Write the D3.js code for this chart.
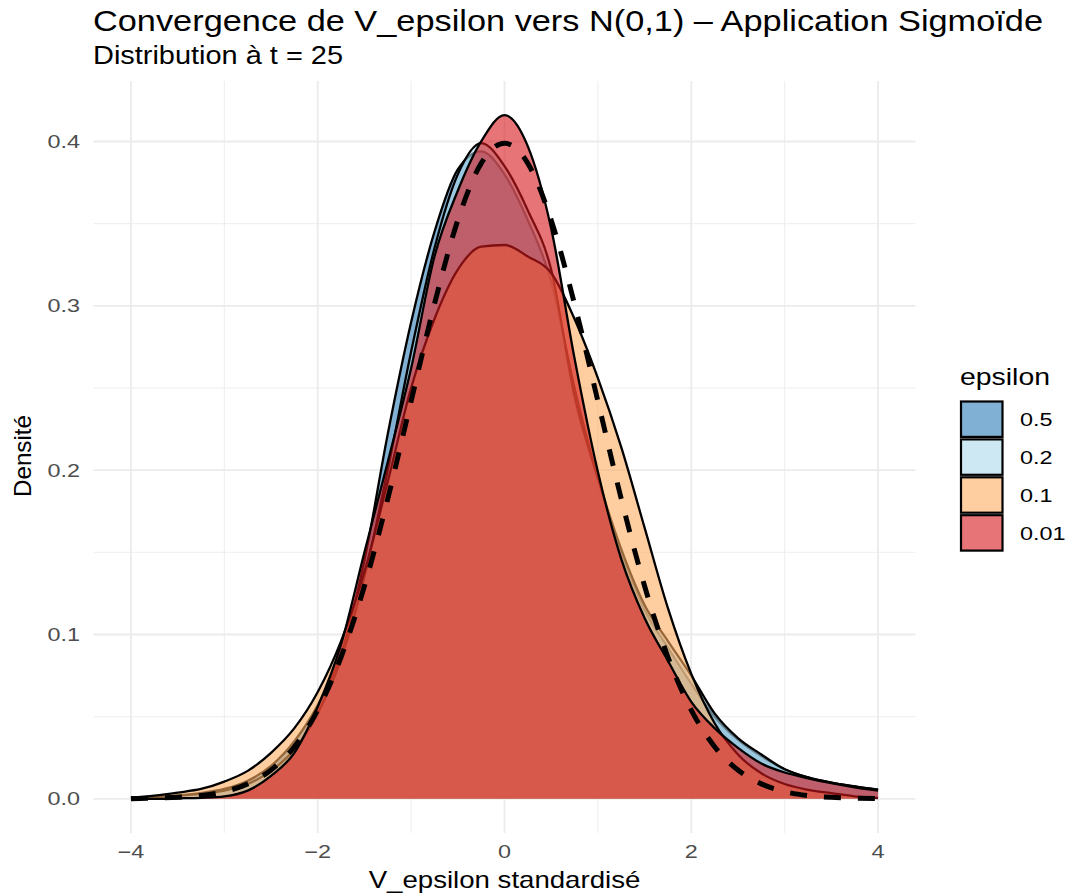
<!DOCTYPE html>
<html>
<head>
<meta charset="utf-8">
<script src="https://cdn.jsdelivr.net/npm/d3@7"></script>
<style>
  body { margin: 0; background: #ffffff; }
  text { font-family: "Liberation Sans", Arial, sans-serif; }
</style>
</head>
<body>
<svg id="chart" width="1066" height="895"></svg>
<script>
// Evaluation grid of the kernel density estimates
const xGrid = [-4, -3.75, -3.5, -3.25, -3, -2.75, -2.5, -2.25, -2, -1.75, -1.5, -1.25, -1,
               -0.75, -0.5, -0.25, 0, 0.25, 0.5, 0.75, 1, 1.25, 1.5, 1.75, 2, 2.25, 2.5,
               2.75, 3, 3.25, 3.5, 3.75, 4];

// Estimated densities of the standardised V_epsilon, one array per epsilon
const epsilonLevels = ["0.5", "0.2", "0.1", "0.01"];
const dens05  = [0.0005, 0.001, 0.002, 0.0035, 0.006, 0.011, 0.020, 0.035, 0.057, 0.088, 0.145,
                 0.222, 0.290, 0.345, 0.383, 0.394, 0.380, 0.352, 0.315, 0.250, 0.195, 0.150,
                 0.115, 0.092, 0.070, 0.050, 0.036, 0.026, 0.018, 0.013, 0.0098, 0.0075, 0.0055];
const dens02  = [0.0005, 0.001, 0.002, 0.003, 0.005, 0.009, 0.017, 0.030, 0.052, 0.085, 0.135,
                 0.200, 0.272, 0.335, 0.380, 0.399, 0.385, 0.358, 0.322, 0.245, 0.195, 0.152,
                 0.118, 0.096, 0.075, 0.052, 0.037, 0.027, 0.018, 0.013, 0.0098, 0.0075, 0.0055];
const dens01  = [0.0008, 0.002, 0.0038, 0.006, 0.0105, 0.017, 0.028, 0.043, 0.065, 0.096, 0.138,
                 0.193, 0.250, 0.292, 0.322, 0.336, 0.337, 0.330, 0.320, 0.292, 0.256, 0.214,
                 0.165, 0.116, 0.076, 0.046, 0.027, 0.0155, 0.009, 0.0055, 0.0035, 0.0015, 0.0005];
const dens001 = [0.000, 0.000, 0.0003, 0.0006, 0.0015, 0.005, 0.014, 0.028, 0.056, 0.094, 0.150,
                 0.205, 0.262, 0.330, 0.370, 0.400, 0.416, 0.397, 0.347, 0.268, 0.199, 0.146,
                 0.110, 0.084, 0.059, 0.043, 0.031, 0.0215, 0.016, 0.0125, 0.0095, 0.007, 0.005];

// Reference N(0,1) density on the same grid
const normalRef = [0.0001, 0.0004, 0.0009, 0.0020, 0.0044, 0.0091, 0.0175, 0.0317, 0.0540,
                   0.0863, 0.1295, 0.1826, 0.2420, 0.3011, 0.3521, 0.3867, 0.3989, 0.3867,
                   0.3521, 0.3011, 0.2420, 0.1826, 0.1295, 0.0863, 0.0540, 0.0317, 0.0175,
                   0.0091, 0.0044, 0.0020, 0.0009, 0.0004, 0.0001];

const xTicks = [-4, -2, 0, 2, 4];
const xMinor = [-3, -1, 1, 3];
const yTicks = [0, 0.1, 0.2, 0.3, 0.4];
const yMinor = [0.05, 0.15, 0.25, 0.35];

const fillColors = ["#2C7BB6", "#ABD9E9", "#FDAE61", "#D7191C"];
const fillAlpha = 0.6;

const svg = d3.select("#chart");

const x = d3.scaleLinear().domain([-4.4, 4.4]).range([93.6, 915.4]);
const y = d3.scaleLinear().domain([-0.0208, 0.4368]).range([833, 81]);

// Stretch a text element horizontally to a given factor of its natural width
function widen(sel, k) {
  sel.each(function () {
    const w = this.getComputedTextLength();
    d3.select(this).attr("textLength", w * k).attr("lengthAdjust", "spacingAndGlyphs");
  });
}
function fitWidth(sel, w) {
  sel.attr("textLength", w).attr("lengthAdjust", "spacingAndGlyphs");
}

// Panel grid
const grid = svg.append("g");
grid.selectAll(".vminor").data(xMinor).join("line")
  .attr("x1", d => x(d)).attr("x2", d => x(d)).attr("y1", 81).attr("y2", 833)
  .attr("stroke", "#ebebeb").attr("stroke-width", 0.9);
grid.selectAll(".hminor").data(yMinor).join("line")
  .attr("x1", 93.6).attr("x2", 915.4).attr("y1", d => y(d)).attr("y2", d => y(d))
  .attr("stroke", "#ebebeb").attr("stroke-width", 0.9);
grid.selectAll(".vmajor").data(xTicks).join("line")
  .attr("x1", d => x(d)).attr("x2", d => x(d)).attr("y1", 81).attr("y2", 833)
  .attr("stroke", "#ebebeb").attr("stroke-width", 1.8);
grid.selectAll(".hmajor").data(yTicks).join("line")
  .attr("x1", 93.6).attr("x2", 915.4).attr("y1", d => y(d)).attr("y2", d => y(d))
  .attr("stroke", "#ebebeb").attr("stroke-width", 1.8);

// Density layers, drawn in legend order (0.5 at the bottom, 0.01 on top)
const seriesValues = [dens05, dens02, dens01, dens001];
const series = epsilonLevels.map((lvl, i) => ({
  level: lvl,
  color: fillColors[i],
  points: xGrid.map((xv, j) => ({ x: xv, y: seriesValues[i][j] }))
}));

const area = d3.area().x(d => x(d.x)).y0(y(0)).y1(d => y(d.y)).curve(d3.curveMonotoneX);
const line = d3.line().x(d => x(d.x)).y(d => y(d.y)).curve(d3.curveMonotoneX);

const layers = svg.append("g");
series.forEach(s => {
  layers.append("path").datum(s.points)
    .attr("d", area).attr("fill", s.color).attr("fill-opacity", fillAlpha);
  layers.append("path").datum(s.points)
    .attr("d", line).attr("fill", "none").attr("stroke", "#000")
    .attr("stroke-width", 2.3).attr("stroke-linejoin", "round");
});

// N(0,1) reference curve
svg.append("path")
  .datum(xGrid.map((xv, j) => ({ x: xv, y: normalRef[j] })))
  .attr("d", line)
  .attr("fill", "none").attr("stroke", "#000")
  .attr("stroke-width", 5).attr("stroke-dasharray", "17,17");

// Axes (labels only, as in theme_minimal)
const fmtY = d3.format(".1f");
const yLab = svg.append("g").selectAll("text").data(yTicks).join("text")
  .attr("x", 80).attr("y", d => y(d)).attr("dy", "0.36em")
  .attr("text-anchor", "end").attr("font-size", 18).attr("fill", "#4d4d4d")
  .text(d => fmtY(d));
widen(yLab, 1.3);

const xLab = svg.append("g").selectAll("text").data(xTicks).join("text")
  .attr("x", d => x(d)).attr("y", 858)
  .attr("text-anchor", "middle").attr("font-size", 18).attr("fill", "#4d4d4d")
  .text(d => d < 0 ? "\u2212" + Math.abs(d) : String(d));
widen(xLab, 1.3);

// Titles
const title = svg.append("text").attr("x", 93).attr("y", 31)
  .attr("font-size", 30).attr("fill", "#000")
  .text("Convergence de V_epsilon vers N(0,1) \u2013 Application Sigmoïde");
fitWidth(title, 950);

const subtitle = svg.append("text").attr("x", 93).attr("y", 64)
  .attr("font-size", 25).attr("fill", "#000")
  .text("Distribution à t = 25");
fitWidth(subtitle, 250);

const xTitle = svg.append("text").attr("x", x(0)).attr("y", 888)
  .attr("text-anchor", "middle").attr("font-size", 24).attr("fill", "#000")
  .text("V_epsilon standardisé");
widen(xTitle, 1.15);

const yTitle = svg.append("text")
  .attr("transform", "translate(31,456) rotate(-90)")
  .attr("text-anchor", "middle").attr("font-size", 24).attr("fill", "#000")
  .text("Densité");
fitWidth(yTitle, 82);

// Legend
const legend = svg.append("g");
const legTitle = legend.append("text").attr("x", 960).attr("y", 385)
  .attr("font-size", 24).attr("fill", "#000").text("epsilon");
fitWidth(legTitle, 90);

const keyTop = 400.5, keyH = 37.9;
series.forEach((s, i) => {
  legend.append("rect")
    .attr("x", 961).attr("y", keyTop + i * keyH + 1)
    .attr("width", 41.5).attr("height", keyH - 2.5)
    .attr("fill", s.color).attr("fill-opacity", fillAlpha)
    .attr("stroke", "#000").attr("stroke-width", 2.2);
  const t = legend.append("text")
    .attr("x", 1020).attr("y", keyTop + i * keyH + keyH / 2).attr("dy", "0.36em")
    .attr("font-size", 18).attr("fill", "#000").text(s.level);
  widen(t, 1.3);
});
</script>
</body>
</html>
